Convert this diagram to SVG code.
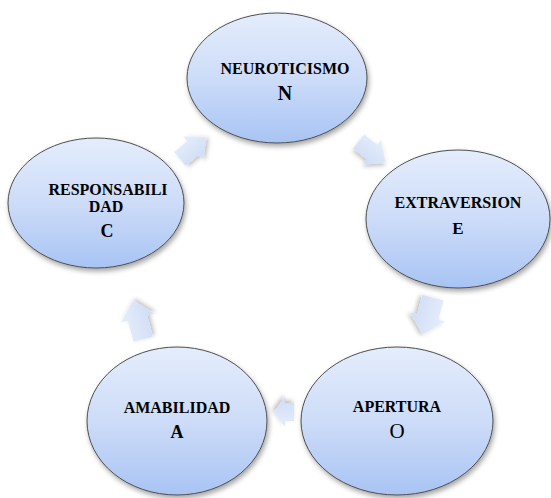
<svg xmlns="http://www.w3.org/2000/svg" width="551" height="498" viewBox="0 0 551 498">
  <style>
    .node { fill: url(#nodeGrad); stroke: #4d4d4d; stroke-width: 1; filter: url(#shadow); }
    .arrow { fill: url(#arrowGrad); filter: url(#ashadow); }
    .lbl { font-family: "Liberation Serif", "Times New Roman", serif; font-weight: bold; font-size: 16px; fill: #000; text-anchor: middle; }
    .let { font-family: "Liberation Serif", "Times New Roman", serif; font-weight: bold; fill: #000; text-anchor: middle; }
    .reg { font-weight: normal; }
  </style>
  <defs>
    <linearGradient id="nodeGrad" x1="0" y1="0" x2="0" y2="1">
      <stop offset="0" stop-color="#e4edfc"/>
      <stop offset="0.5" stop-color="#cddcf8"/>
      <stop offset="1" stop-color="#a8c4f4"/>
    </linearGradient>
    <linearGradient id="arrowGrad" x1="0" y1="0" x2="0" y2="1">
      <stop offset="0" stop-color="#e6eefb"/>
      <stop offset="1" stop-color="#cfdcf6"/>
    </linearGradient>
    <filter id="shadow" x="-10%" y="-10%" width="125%" height="130%">
      <feDropShadow dx="1.5" dy="3" stdDeviation="2.5" flood-color="#000" flood-opacity="0.35"/>
    </filter>
    <filter id="ashadow" x="-30%" y="-30%" width="160%" height="160%">
      <feDropShadow dx="1.5" dy="2.5" stdDeviation="2" flood-color="#000" flood-opacity="0.25"/>
    </filter>
  </defs>
  <rect width="551" height="498" fill="#fff"/>

  <g id="connectors">
    <polygon class="arrow" transform="translate(193,148) rotate(-40)" points="-17,-9 0,-9 0,-15 17,0 0,15 0,9 -17,9"/>
    <polygon class="arrow" transform="translate(372,152) rotate(38)" points="-17,-9 0,-9 0,-15 17,0 0,15 0,9 -17,9"/>
    <polygon class="arrow" transform="translate(428,316) rotate(105)" points="-19,-11 1,-11 1,-18 19,0 1,18 1,11 -19,11"/>
    <polygon class="arrow" transform="translate(284,412) rotate(180)" points="-10,-9 -1,-9 -1,-15 10,0 -1,15 -1,9 -10,9"/>
    <polygon class="arrow" transform="translate(138,320) rotate(-105)" points="-20,-10 2,-10 2,-17 20,0 2,17 2,10 -20,10"/>
  </g>

  <g id="node-N">
    <ellipse class="node" cx="277" cy="78" rx="90" ry="65"/>
    <text class="lbl" x="285" y="74">NEUROTICISMO</text>
    <text class="let" x="285" y="100" font-size="20">N</text>
  </g>
  <g id="node-E">
    <ellipse class="node" cx="458" cy="219" rx="92" ry="69"/>
    <text class="lbl" x="458" y="208">EXTRAVERSION</text>
    <text class="let" x="458" y="234" font-size="17">E</text>
  </g>
  <g id="node-O">
    <ellipse class="node" cx="397" cy="421" rx="96" ry="74"/>
    <text class="lbl" x="397" y="412">APERTURA</text>
    <text class="let reg" x="397" y="438" font-size="21">O</text>
  </g>
  <g id="node-A">
    <ellipse class="node" cx="177" cy="421" rx="90" ry="74"/>
    <text class="lbl" x="177" y="413">AMABILIDAD</text>
    <text class="let" x="177" y="438" font-size="18">A</text>
  </g>
  <g id="node-C">
    <ellipse class="node" cx="96" cy="203" rx="88" ry="65"/>
    <text class="lbl" x="108" y="195">RESPONSABILI</text>
    <text class="lbl" x="106" y="212">DAD</text>
    <text class="let" x="107" y="237" font-size="18">C</text>
  </g>
</svg>
